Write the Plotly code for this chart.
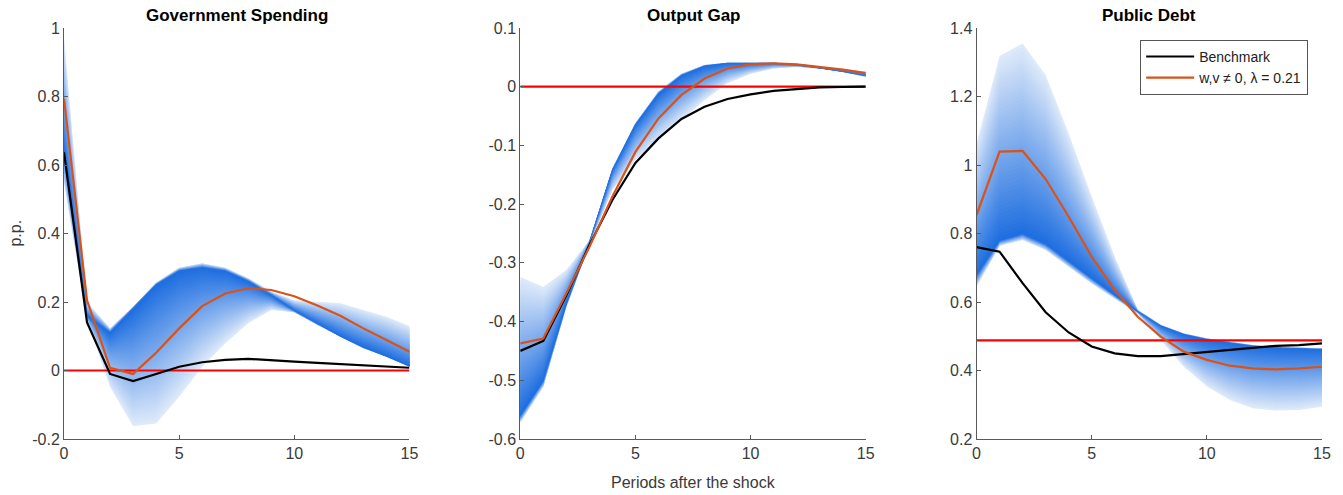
import plotly.graph_objects as go

periods = list(range(16))

# ---------------- Government Spending ----------------
gs_benchmark = [0.637, 0.14, -0.01, -0.031, -0.01, 0.011, 0.024, 0.031, 0.034, 0.031, 0.026, 0.022, 0.018, 0.015, 0.012, 0.008]
gs_alt = [0.793, 0.205, 0.008, -0.01, 0.052, 0.123, 0.188, 0.225, 0.24, 0.235, 0.217, 0.19, 0.16, 0.123, 0.089, 0.055]
gs_band_lo = [0.55, 0.15, -0.048, -0.162, -0.155, -0.077, 0.011, 0.079, 0.138, 0.177, 0.17, 0.133, 0.099, 0.065, 0.04, 0.011]
gs_band_mid = [0.64, 0.16, 0.11, 0.18, 0.25, 0.29, 0.30, 0.29, 0.26, 0.22, 0.175, 0.137, 0.10, 0.068, 0.042, 0.013]
gs_band_hi = [0.97, 0.20, 0.123, 0.186, 0.256, 0.30, 0.313, 0.30, 0.269, 0.23, 0.205, 0.20, 0.196, 0.177, 0.157, 0.13]
gs_ref = 0.0

# ---------------- Output Gap ----------------
og_benchmark = [-0.45, -0.433, -0.355, -0.27, -0.193, -0.13, -0.088, -0.055, -0.034, -0.021, -0.013, -0.007, -0.004, -0.001, -0.0005, 0.0]
og_alt = [-0.437, -0.429, -0.352, -0.273, -0.187, -0.111, -0.054, -0.014, 0.014, 0.031, 0.038, 0.040, 0.038, 0.034, 0.029, 0.023]
og_band_lo = [-0.572, -0.511, -0.375, -0.27, -0.176, -0.125, -0.091, -0.057, -0.023, 0.006, 0.022, 0.031, 0.034, 0.031, 0.025, 0.017]
og_band_mid = [-0.56, -0.50, -0.37, -0.265, -0.142, -0.065, -0.012, 0.019, 0.035, 0.040, 0.040, 0.040, 0.037, 0.032, 0.026, 0.019]
og_band_hi = [-0.324, -0.341, -0.312, -0.262, -0.139, -0.062, -0.008, 0.022, 0.037, 0.041, 0.041, 0.041, 0.039, 0.035, 0.030, 0.026]
og_ref = 0.0

# ---------------- Public Debt ----------------
pd_benchmark = [0.76, 0.747, 0.655, 0.57, 0.511, 0.47, 0.45, 0.442, 0.442, 0.448, 0.455, 0.462, 0.468, 0.472, 0.474, 0.479]
pd_alt = [0.854, 1.039, 1.041, 0.959, 0.849, 0.732, 0.635, 0.557, 0.499, 0.455, 0.431, 0.414, 0.406, 0.403, 0.406, 0.411]
pd_band_lo = [0.645, 0.764, 0.781, 0.752, 0.703, 0.654, 0.61, 0.567, 0.489, 0.411, 0.353, 0.314, 0.29, 0.283, 0.285, 0.294]
pd_band_mid = [0.68, 0.78, 0.80, 0.77, 0.72, 0.67, 0.62, 0.572, 0.53, 0.505, 0.49, 0.48, 0.471, 0.466, 0.463, 0.461]
pd_band_hi = [1.063, 1.318, 1.355, 1.263, 1.092, 0.908, 0.732, 0.577, 0.533, 0.508, 0.494, 0.484, 0.474, 0.469, 0.466, 0.465]
pd_ref = 0.488

titles = ["Government Spending", "Output Gap", "Public Debt"]
legend_names = ["Benchmark", "w,v \u2260 0, \u03bb = 0.21"]
x_ticks = [0, 5, 10, 15]
x_ticktext = ["0", "5", "10", "15"]
y_ticks = [
    [-0.2, 0, 0.2, 0.4, 0.6, 0.8, 1.0],
    [-0.6, -0.5, -0.4, -0.3, -0.2, -0.1, 0, 0.1],
    [0.2, 0.4, 0.6, 0.8, 1.0, 1.2, 1.4],
]
y_ticktext = [
    ["-0.2", "0", "0.2", "0.4", "0.6", "0.8", "1"],
    ["-0.6", "-0.5", "-0.4", "-0.3", "-0.2", "-0.1", "0", "0.1"],
    ["0.2", "0.4", "0.6", "0.8", "1", "1.2", "1.4"],
]
y_ranges = [[-0.2, 1.0], [-0.6, 0.1], [0.2, 1.4]]
x_label = "Periods after the shock"
y_label = "p.p."

panels = [
    (gs_benchmark, gs_alt, gs_band_lo, gs_band_mid, gs_band_hi, gs_ref),
    (og_benchmark, og_alt, og_band_lo, og_band_mid, og_band_hi, og_ref),
    (pd_benchmark, pd_alt, pd_band_lo, pd_band_mid, pd_band_hi, pd_ref),
]

FONT = "Liberation Sans, Arial, sans-serif"
DARK = (30, 110, 224)
LIGHT = (224, 235, 250)
N_BANDS = 48

domains = [[0.0, 0.2746], [0.3627, 0.6373], [0.7254, 1.0]]

fig = go.Figure()

for i, (bench, alt, lo, mid, hi, ref) in enumerate(panels):
    xa = "x" if i == 0 else f"x{i+1}"
    ya = "y" if i == 0 else f"y{i+1}"
    # fan bands, widest (lightest) first
    for k in range(N_BANDS, 0, -1):
        f = k / N_BANDS
        t = (k - 0.5) / N_BANDS
        c = tuple(round(DARK[j] * (1 - t) + LIGHT[j] * t) for j in range(3))
        up = [m + f * (h - m) for m, h in zip(mid, hi)]
        dn = [m - f * (m - l) for m, l in zip(mid, lo)]
        fig.add_trace(go.Scatter(
            x=periods + periods[::-1], y=up + dn[::-1],
            fill="toself", fillcolor=f"rgb({c[0]},{c[1]},{c[2]})",
            line=dict(width=0), mode="lines", hoverinfo="skip",
            showlegend=False, xaxis=xa, yaxis=ya))
    fig.add_trace(go.Scatter(
        x=periods, y=[ref] * len(periods), mode="lines",
        line=dict(color="#ff0000", width=2.2), showlegend=False,
        xaxis=xa, yaxis=ya))
    fig.add_trace(go.Scatter(
        x=periods, y=bench, mode="lines", name=legend_names[0],
        line=dict(color="#000000", width=2.2), showlegend=(i == 2),
        xaxis=xa, yaxis=ya))
    fig.add_trace(go.Scatter(
        x=periods, y=alt, mode="lines", name=legend_names[1],
        line=dict(color="#d95319", width=2.2), showlegend=(i == 2),
        xaxis=xa, yaxis=ya))

axis_common = dict(
    showline=True, linecolor="#5a5a5a", linewidth=1, mirror=False,
    showgrid=False, zeroline=False, ticks="inside", ticklen=4,
    tickcolor="#5a5a5a", tickfont=dict(family=FONT, size=16, color="#3a3a3a"),
)

layout = dict(
    width=1343, height=495,
    margin=dict(l=64, r=19, t=28, b=56),
    plot_bgcolor="white", paper_bgcolor="white",
    font=dict(family=FONT),
    legend=dict(
        x=0.989, y=0.971, xanchor="right", yanchor="top",
        bgcolor="white", bordercolor="#555555", borderwidth=1,
        font=dict(family=FONT, size=14, color="#222222"),
        tracegroupgap=0, itemwidth=48,
    ),
    annotations=[],
)

for i in range(3):
    xk = "xaxis" if i == 0 else f"xaxis{i+1}"
    yk = "yaxis" if i == 0 else f"yaxis{i+1}"
    layout[xk] = dict(axis_common, domain=domains[i], range=[0, 15],
                      tickvals=x_ticks, ticktext=x_ticktext,
                      anchor="y" if i == 0 else f"y{i+1}")
    layout[yk] = dict(axis_common, domain=[0, 1], range=y_ranges[i],
                      tickvals=y_ticks[i], ticktext=y_ticktext[i],
                      anchor="x" if i == 0 else f"x{i+1}")
    layout["annotations"].append(dict(
        text=f"<b>{titles[i]}</b>", xref="paper", yref="paper",
        x=(domains[i][0] + domains[i][1]) / 2, y=1,
        xanchor="center", yanchor="bottom",
        yshift=1, showarrow=False,
        font=dict(family=FONT, size=17, color="#000000")))

layout["annotations"].append(dict(
    text=x_label, xref="paper", yref="paper",
    x=(domains[1][0] + domains[1][1]) / 2, y=-0.107,
    xanchor="center", yanchor="middle",
    showarrow=False, font=dict(family=FONT, size=16, color="#3a3a3a")))
layout["annotations"].append(dict(
    text=y_label, xref="paper", yref="paper", textangle=-90,
    x=-0.0389, y=0.5, xanchor="center", yanchor="middle",
    showarrow=False, font=dict(family=FONT, size=16, color="#3a3a3a")))

fig.update_layout(**layout)
fig.write_html(
    "out.html",
    config={"displayModeBar": False},
    post_script="document.body.style.margin='0';document.body.style.overflow='hidden';",
)
